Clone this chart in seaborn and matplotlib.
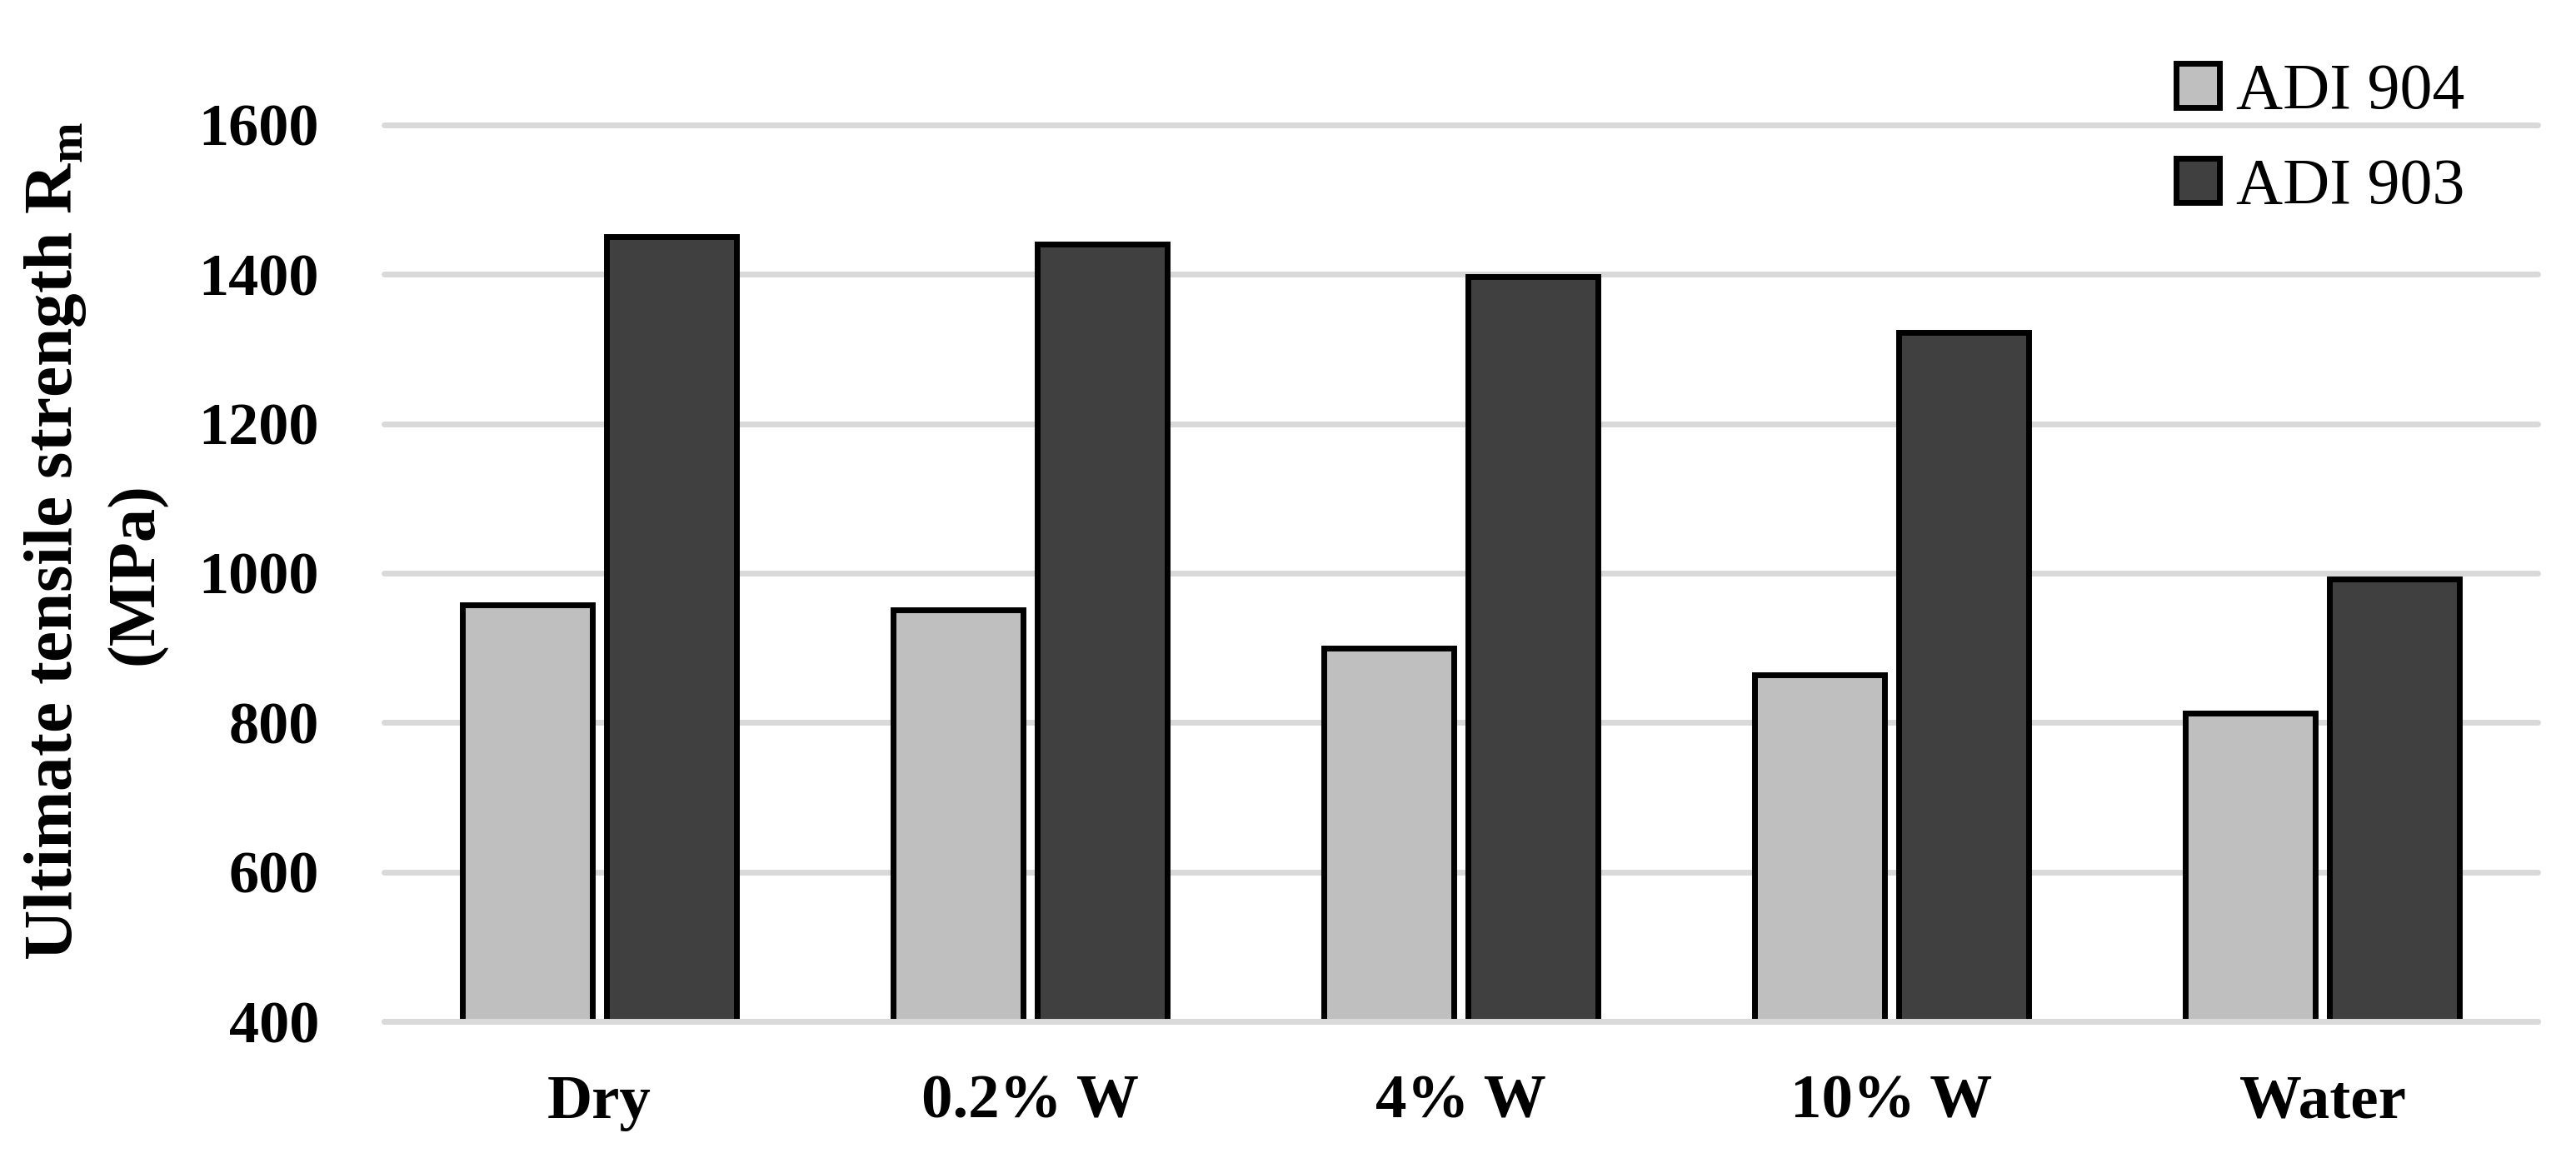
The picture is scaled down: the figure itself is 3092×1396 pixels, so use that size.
import matplotlib
matplotlib.use("Agg")
import matplotlib.pyplot as plt
import seaborn as sns
import pandas as pd

# ---- data ----
conditions = ["Dry", "0.2% W", "4% W", "10% W", "Water"]
series_names = ["ADI 904", "ADI 903"]
adi904 = [958, 951, 900, 864, 813]
adi903 = [1450, 1441, 1397, 1322, 992]
y_ticks = [400, 600, 800, 1000, 1200, 1400, 1600]

df = pd.DataFrame({
    "Condition": conditions * 2,
    "Alloy": [series_names[0]] * len(conditions) + [series_names[1]] * len(conditions),
    "UTS": adi904 + adi903,
})

sns.set_theme(style="white")
plt.rcParams["font.family"] = ["Liberation Serif", "DejaVu Serif"]
plt.rcParams["mathtext.fontset"] = "custom"
plt.rcParams["mathtext.rm"] = "Liberation Serif"
plt.rcParams["text.color"] = "black"
plt.rcParams["xtick.labelcolor"] = "black"
plt.rcParams["ytick.labelcolor"] = "black"

W, H, DPI = 3092, 1396, 200
fig = plt.figure(figsize=(W / DPI, H / DPI), dpi=DPI)
ax = fig.add_axes([461 / W, 1 - 1226 / H, (3046 - 461) / W, (1226 - 132) / H])

sns.barplot(data=df, x="Condition", y="UTS", hue="Alloy",
            palette=["#bfbfbf", "#404040"], width=0.67, gap=0.1,
            edgecolor="black", linewidth=2.5, saturation=1,
            ax=ax, zorder=2)

ax.set_ylim(400, 1620)
ax.set_yticks(y_ticks)
ax.set_yticklabels([str(v) for v in y_ticks], fontsize=26, fontweight="bold", color="black")
ax.set_xticks(range(len(conditions)))
ax.set_xticklabels(conditions, fontsize=27, fontweight="bold", color="black")
ax.tick_params(axis="y", length=0, pad=28)
ax.tick_params(axis="x", length=0, pad=23)
ax.set_xlabel("")
ax.set_ylabel("")
for s in ax.spines.values():
    s.set_visible(False)
ax.set_axisbelow(True)
ax.yaxis.grid(True, color="#d9d9d9", linewidth=2.5)
ax.xaxis.grid(False)
for gl in ax.get_ygridlines():
    gl.set_clip_on(False)
ax.axhline(400, color="#d9d9d9", linewidth=2.5, zorder=5, clip_on=False)

# y label (two lines)
fig.text(0.0215, 1 - 650 / H, r"Ultimate tensile strength R$_{\mathregular{m}}$",
         rotation=90, ha="center", va="center", fontsize=30, fontweight="bold",
         color="black")
fig.text(0.053, 1 - 689 / H, "(MPa)", rotation=90, ha="center", va="center",
         fontsize=29, fontweight="bold", color="black")

# legend
handles, labels = ax.get_legend_handles_labels()
leg = ax.legend(handles, labels, loc="center left",
                bbox_to_anchor=(2612 / W, 1 - 168 / H), bbox_transform=fig.transFigure,
                frameon=False, fontsize=28, handlelength=0.67, handleheight=0.67,
                handletextpad=0.25, labelspacing=0.55, borderpad=0, borderaxespad=0)
for t in leg.get_texts():
    t.set_color("black")

fig.savefig("out.png", dpi=DPI)
